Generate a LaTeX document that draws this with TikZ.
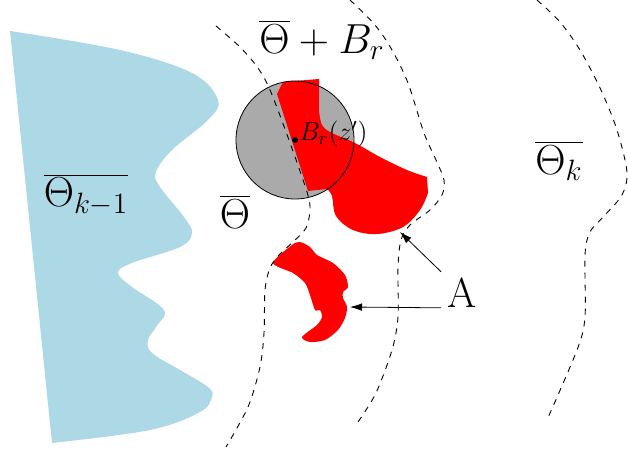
\RequirePackage{fix-cm}
\documentclass[tikz,border=0pt]{standalone}
\usetikzlibrary{arrows.meta}
\definecolor{shelf}{RGB}{173,216,230}
\definecolor{ballgray}{RGB}{170,170,170}
\begin{document}
\begin{tikzpicture}[>={Latex[length=6pt,width=3.8pt]},x=0.5pt,y=-0.5pt,
 bnd/.style={dashed,line width=0.45pt},
 big/.style={font=\fontsize{21}{25}\selectfont},
 blob/.style={fill=red,draw=none}]
\useasboundingbox (0,0) rectangle (628,454);
% Theta_{k-1}
\fill[shelf] plot[smooth,tension=0.6] coordinates {(10,31) (120,50) (192,73) (218,100) (208,120) (172,150)
 (156,172) (160,187) (184,217) (192,233) (180,247) (132,263) (118,273) (132,287) (164,310) (156,327)
 (148,340) (152,353) (180,370) (208,387) (212,397) (200,412) (150,430) (52,443)} -- cycle;
% the ball B_r(z')
\coordinate (z) at (295,140);
\fill[ballgray] (z) circle (29.5pt);
% the set A
\fill[blob] (308,191) -- (277,94) -- (283,82) -- (319,79)
 -- plot[smooth,tension=0.6] coordinates {(319,110) (322,125) (332,133) (355,143) (380,157) (407,170) (427,177)}
 -- plot[smooth,tension=0.6] coordinates {(428,193) (420,210) (403,227) (377,234) (353,230) (336,216) (332,196) (327,189)}
 -- cycle;
\fill[blob] plot[smooth cycle,tension=0.45] coordinates {(273,263) (292,245) (300,242) (310,247) (317,255)
 (333,263) (345,275) (348,287) (343,292) (343,298) (347,307) (345,318) (338,330) (325,340) (310,342)
 (302,337) (317,325) (322,317) (320,310) (315,310) (310,295) (305,283) (293,273)};
% boundaries
\draw[bnd] plot[smooth,tension=0.5] coordinates {(216,26) (240,47) (258,68) (270,90) (289,140) (307,192)
 (310,210) (306,228) (293,242) (279,255) (270,268) (265,290) (264,333) (260,367) (248,407) (226,447)};
\draw[bnd] plot[smooth,tension=0.5] coordinates {(350,0) (375,25) (392,50) (408,83) (424,133) (436,160)
 (444,180) (442,195) (430,210) (410,225) (401,240) (398,267) (398,317) (392,350) (376,393) (358,422)};
\draw[bnd] plot[smooth,tension=0.5] coordinates {(537,0) (560,22) (580,50) (601,90) (617,130) (627,172)
 (622,195) (605,215) (590,232) (585,255) (585,317) (577,350) (547,420)};
\draw (z) circle (29.5pt);
\fill (z) circle (1.5pt);
\node[anchor=base west,inner sep=0pt,font=\fontsize{13}{15}\selectfont] (bz) at (299,141) {$B_r(z')$};
% labels
\node[big] (tk1) at (86,195) {$\overline{\Theta_{k-1}}$};
\node[big] (tbr) at (322,40) {$\overline{\Theta}+B_r$};
\node[big] (th) at (235,212) {$\overline{\Theta}$};
\node[big] (tk) at (559,161) {$\overline{\Theta_k}$};
\node[big,inner sep=3pt] (A) at (462,293) {A};
\coordinate (tipU) at (400,232);
\coordinate (tipL) at (350,307);
\draw[->] (A.north west) -- (tipU);
\draw[->] (A.base west) -- (tipL);
\end{tikzpicture}
\end{document}
